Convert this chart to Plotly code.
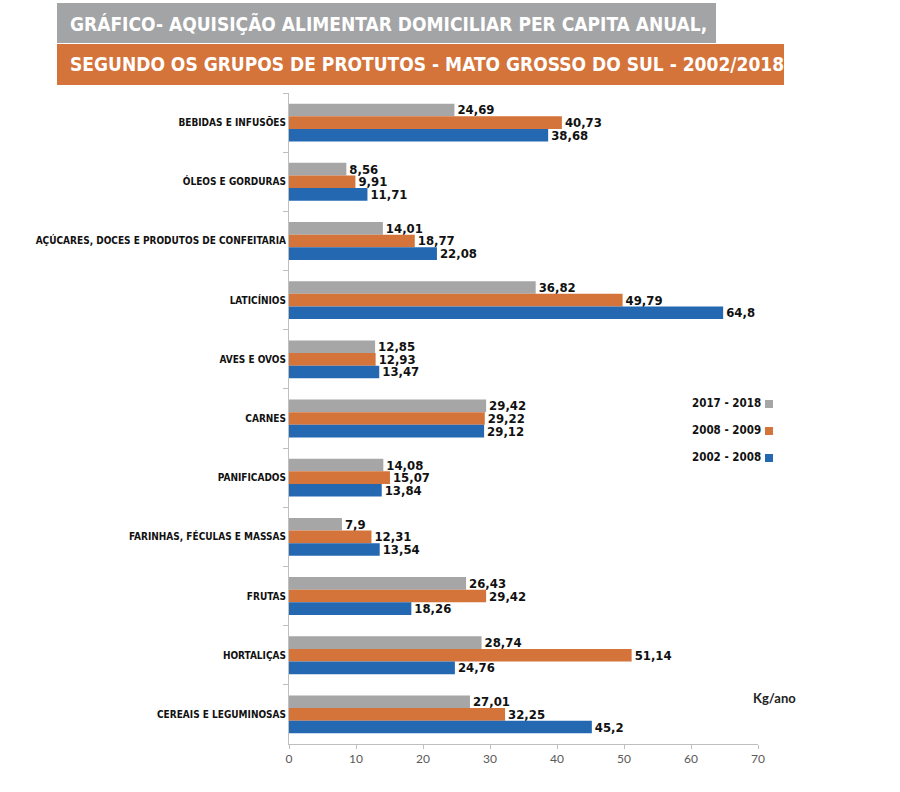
import plotly.graph_objects as go

categories = [
    "BEBIDAS E INFUSÕES",
    "ÓLEOS E GORDURAS",
    "AÇÚCARES, DOCES E PRODUTOS DE CONFEITARIA",
    "LATICÍNIOS",
    "AVES E OVOS",
    "CARNES",
    "PANIFICADOS",
    "FARINHAS, FÉCULAS E MASSAS",
    "FRUTAS",
    "HORTALIÇAS",
    "CEREAIS E LEGUMINOSAS",
]
series_names = ["2017 - 2018", "2008 - 2009", "2002 - 2008"]
v_2017_2018 = [24.69, 8.56, 14.01, 36.82, 12.85, 29.42, 14.08, 7.9, 26.43, 28.74, 27.01]
v_2008_2009 = [40.73, 9.91, 18.77, 49.79, 12.93, 29.22, 15.07, 12.31, 29.42, 51.14, 32.25]
v_2002_2008 = [38.68, 11.71, 22.08, 64.8, 13.47, 29.12, 13.84, 13.54, 18.26, 24.76, 45.2]
x_ticks = [0, 10, 20, 30, 40, 50, 60, 70]
title_line1 = "GRÁFICO- AQUISIÇÃO ALIMENTAR DOMICILIAR PER CAPITA ANUAL,"
title_line2 = "SEGUNDO OS GRUPOS DE PROTUTOS - MATO GROSSO DO SUL - 2002/2018"
unit_label = "Kg/ano"

colors = ["#A6A6A6", "#D4733A", "#2468B2"]
COND = "DejaVu Sans Condensed, Liberation Sans Narrow, Arial Narrow, sans-serif"


def fmt(v):
    s = ("%.2f" % v).rstrip("0").rstrip(".")
    return s.replace(".", ",")


fig = go.Figure()
for name, vals, col in zip(series_names, [v_2017_2018, v_2008_2009, v_2002_2008], colors):
    fig.add_trace(go.Bar(
        y=categories, x=vals, orientation="h", name=name,
        marker=dict(color=col, line=dict(width=0)),
        text=[fmt(v) for v in vals], textposition="outside",
        textfont=dict(family=COND, size=13, color="#111111", weight="bold"),
        constraintext="none", cliponaxis=False,
    ))

# pixel geometry helpers
L, R, T, B = 289, 758, 93, 744
def xp(px):
    return (px - L) / (R - L)
def yp(py):
    return (B - py) / (B - T)

shapes = [
    dict(type="rect", xref="paper", yref="paper", x0=xp(57), x1=xp(716), y0=yp(43), y1=yp(3),
         fillcolor="#A3A4A6", line=dict(width=0), layer="above"),
    dict(type="rect", xref="paper", yref="paper", x0=xp(57), x1=xp(784), y0=yp(85), y1=yp(44),
         fillcolor="#D4733A", line=dict(width=0), layer="above"),
]
annotations = [
    dict(text="<b>" + title_line1 + "</b>", xref="paper", yref="paper", x=xp(68), y=yp(23),
         xanchor="left", yanchor="middle", showarrow=False,
         font=dict(family=COND, size=19, color="white")),
    dict(text="<b>" + title_line2 + "</b>", xref="paper", yref="paper", x=xp(68), y=yp(64),
         xanchor="left", yanchor="middle", showarrow=False,
         font=dict(family=COND, size=19, color="white")),
    dict(text="<b>" + unit_label + "</b>", xref="paper", yref="paper", x=xp(751), y=yp(698),
         xanchor="left", yanchor="middle", showarrow=False,
         font=dict(family="Lato, sans-serif", size=13, color="#222222")),
]
leg_y = [403, 430, 457]
for name, col, py in zip(series_names, colors, leg_y):
    annotations.append(dict(text="<b>" + name + "</b>", xref="paper", yref="paper", x=xp(763), y=yp(py),
                            xanchor="right", yanchor="middle", showarrow=False,
                            font=dict(family=COND, size=11.5, color="#111111")))
    shapes.append(dict(type="rect", xref="paper", yref="paper", x0=xp(765), x1=xp(773),
                       y0=yp(py + 5), y1=yp(py - 3), fillcolor=col, line=dict(width=0)))

fig.update_layout(
    width=900, height=792,
    margin=dict(l=L, r=900 - R, t=T, b=792 - B, autoexpand=False),
    paper_bgcolor="white", plot_bgcolor="white",
    barmode="group", bargap=0.36, bargroupgap=0,
    showlegend=False,
    shapes=shapes, annotations=annotations,
    xaxis=dict(range=[0, 70], tickvals=x_ticks, showgrid=False, zeroline=False,
               showline=True, linecolor="#BFBFBF", linewidth=1,
               ticks="outside", ticklen=4, tickcolor="#BFBFBF",
               tickfont=dict(family="Lato, sans-serif", size=12, color="#595959")),
    yaxis=dict(autorange="reversed", showgrid=False, showline=True, linecolor="#BFBFBF",
               linewidth=1, ticks="outside", ticklen=5, tickcolor="#BFBFBF",
               tickson="boundaries",
               tickfont=dict(family=COND, size=10, color="#111111", weight="bold")),
)

fig.write_html("out.html")
